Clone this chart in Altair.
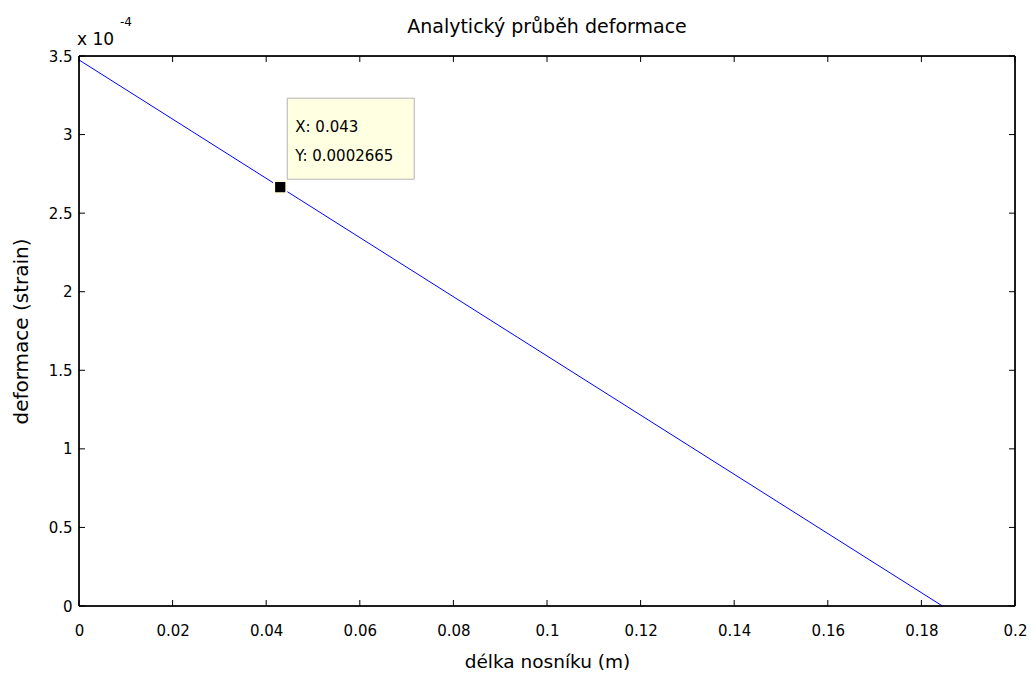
import altair as alt
import pandas as pd

# Data
x_vals = [0.0, 0.043, 0.1845]
y_vals = [3.475e-4, 2.665e-4, 0.0]

tip_x = [0.043]
tip_y = [0.0002665]
tip_lines = ["X: 0.043", "Y: 0.0002665"]

x_ticks = [0, 0.02, 0.04, 0.06, 0.08, 0.1, 0.12, 0.14, 0.16, 0.18, 0.2]
y_ticks = [0, 0.5e-4, 1e-4, 1.5e-4, 2e-4, 2.5e-4, 3e-4, 3.5e-4]

title_text = "Analytický průběh deformace"

W, H = 936, 550
FONT = "DejaVu Sans"
LBL = 15

line_df = pd.DataFrame({"x": x_vals, "y": y_vals})
tip_df = pd.DataFrame({"x": tip_x, "y": tip_y})
xt_df = pd.DataFrame({"t": x_ticks})
yt_df = pd.DataFrame({"t": y_ticks})

xs = alt.Scale(domain=[0, 0.2], nice=False, zero=False)
ys = alt.Scale(domain=[0, 3.5e-4], nice=False, zero=False)

line = alt.Chart(line_df).mark_line(color="#0000ff", strokeWidth=1).encode(
    x=alt.X("x:Q", scale=xs, axis=alt.Axis(
        values=x_ticks, title="délka nosníku (m)", grid=False, ticks=False,
        domain=False, labelFontSize=LBL, labelFont=FONT, labelColor="#000",
        labelPadding=17, titleFont=FONT, titleFontSize=18.5, titleFontWeight="normal",
        titleColor="#000", titlePadding=14, labelFlush=False,
        labelExpr="format(datum.value, '~g')")),
    y=alt.Y("y:Q", scale=ys, axis=alt.Axis(
        values=y_ticks, title="deformace (strain)", grid=False, ticks=False,
        domain=False, labelFontSize=LBL, labelFont=FONT, labelColor="#000",
        labelPadding=7, titleFont=FONT, titleFontSize=20, titleFontWeight="normal",
        titleColor="#000", titlePadding=17, labelFlush=False,
        labelExpr="format(datum.value * 10000, '~g')")),
)

# box frame
frame = alt.Chart(line_df).mark_rect(fill=None, stroke="#000", strokeWidth=1).encode(
    x=alt.value(0), x2=alt.value(W), y=alt.value(0), y2=alt.value(H)
)

tick_len = 6
xt_bottom = alt.Chart(xt_df).mark_rule(color="#000").encode(
    x=alt.X("t:Q", scale=xs), y=alt.value(H), y2=alt.value(H - tick_len))
xt_top = alt.Chart(xt_df).mark_rule(color="#000").encode(
    x=alt.X("t:Q", scale=xs), y=alt.value(0), y2=alt.value(tick_len))
yt_left = alt.Chart(yt_df).mark_rule(color="#000").encode(
    y=alt.Y("t:Q", scale=ys), x=alt.value(0), x2=alt.value(tick_len))
yt_right = alt.Chart(yt_df).mark_rule(color="#000").encode(
    y=alt.Y("t:Q", scale=ys), x=alt.value(W), x2=alt.value(W - tick_len))

# data tip
tip_box = alt.Chart(tip_df).mark_rect(
    fill="#ffffe1", stroke="#b4b4b4", strokeWidth=1,
    xOffset=7, x2Offset=134, yOffset=-89, y2Offset=-8
).encode(x=alt.X("x:Q", scale=xs), x2="x", y=alt.Y("y:Q", scale=ys), y2="y")

tip_marker = alt.Chart(tip_df).mark_square(
    size=150, color="#000", stroke="#ffffe1", strokeWidth=2, opacity=1, filled=True
).encode(x=alt.X("x:Q", scale=xs), y=alt.Y("y:Q", scale=ys))

tip_text1 = alt.Chart(tip_df).mark_text(
    text=tip_lines[0], align="left", baseline="middle", dx=15, dy=-60,
    font=FONT, fontSize=LBL, color="#000"
).encode(x=alt.X("x:Q", scale=xs), y=alt.Y("y:Q", scale=ys))
tip_text2 = alt.Chart(tip_df).mark_text(
    text=tip_lines[1], align="left", baseline="middle", dx=15, dy=-31,
    font=FONT, fontSize=LBL, color="#000"
).encode(x=alt.X("x:Q", scale=xs), y=alt.Y("y:Q", scale=ys))

# exponent label
exp_base = alt.Chart(tip_df).mark_text(
    text="x 10", align="left", baseline="alphabetic", font=FONT, fontSize=17, color="#000"
).encode(x=alt.value(-2), y=alt.value(-11))
exp_pow = alt.Chart(tip_df).mark_text(
    text="-4", align="left", baseline="alphabetic", font=FONT, fontSize=12, color="#000"
).encode(x=alt.value(41), y=alt.value(-30))

title = alt.Chart(tip_df).mark_text(
    text=title_text, align="center", baseline="middle", font=FONT, fontSize=19, color="#000"
).encode(x=alt.value(W / 2), y=alt.value(-29))

chart = alt.layer(
    line, frame, xt_bottom, xt_top, yt_left, yt_right,
    tip_box, tip_marker, tip_text1, tip_text2, exp_base, exp_pow, title
).properties(
    width=W, height=H,
    autosize=alt.AutoSizeParams(type="none"),
    padding={"left": 71, "top": 48, "right": 12, "bottom": 68},
).configure_view(stroke=None).configure(background="white")

chart.save("out.html", embed_options={"renderer": "svg", "actions": False})
